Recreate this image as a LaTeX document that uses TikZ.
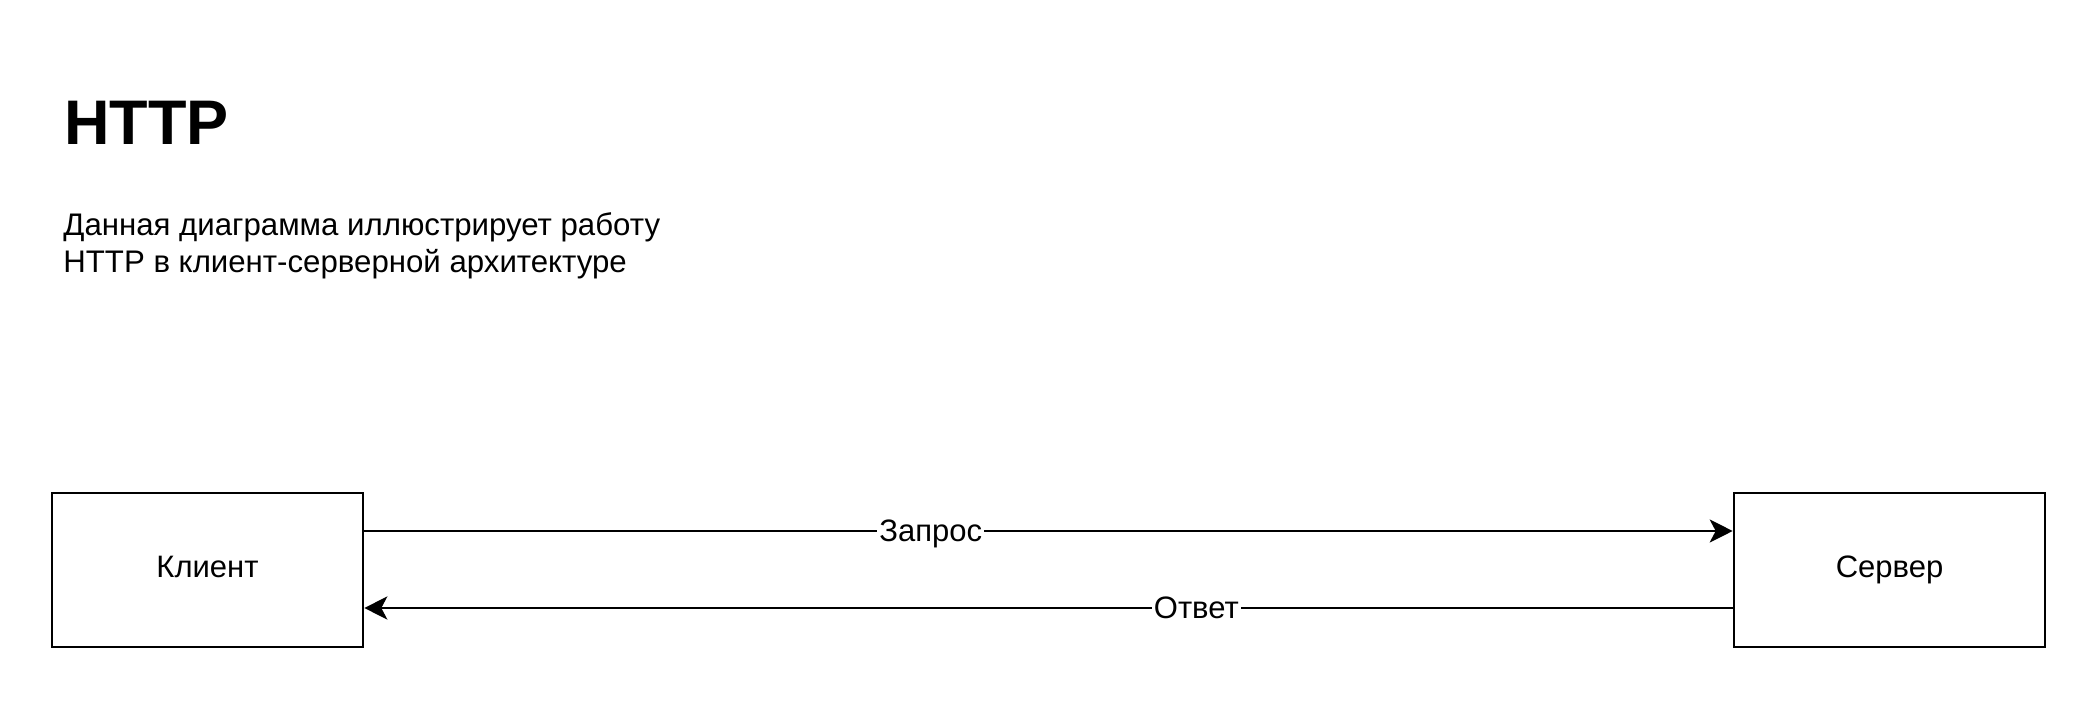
\documentclass[tikz,border=0pt]{standalone}
\usepackage{fontspec}
\setmainfont{Liberation Sans}
\usetikzlibrary{arrows.meta,positioning}

\begin{document}
\begin{tikzpicture}[
    x=0.5pt, y=-0.5pt,
    box/.style={
        rectangle,
        draw=black,
        line width=1.3pt,
        minimum width=155.5pt,
        minimum height=77pt,
        text height=11.2pt,
        text depth=4.2pt,
        font=\fontsize{15.5}{18}\selectfont
    },
    arrow/.style={-{Stealth[length=11.5pt, width=11.5pt, inset=3pt]}, line width=1.3pt},
    msglabel/.style={fill=white, inner sep=1pt, text height=11.2pt, text depth=1.2pt,
        font=\fontsize{15.5}{18}\selectfont}
]
\useasboundingbox (0,0) rectangle (2098,701);

% Title
\node[anchor=base west, inner sep=0pt, font=\fontsize{31.5}{36}\bfseries] (title) at (64,144) {HTTP};

% Description
\node[anchor=base west, inner sep=0pt, align=left, font=\fontsize{15.6}{18.5}\selectfont] (desc) at (63,272)
    {Данная диаграмма иллюстрирует работу\\HTTP в клиент-серверной архитектуре};

% Client and server
\node[box] (client) at (207.5,570) {Клиент};
\node[box] (server) at (1889.5,570) {Сервер};

% Messages
\draw[arrow] ([yshift=19.5pt]client.east) -- node[msglabel, pos=0.414] (req) {Запрос} ([yshift=19.5pt]server.west);
\draw[arrow] ([yshift=-19pt]server.west) -- node[msglabel, pos=0.392] (resp) {Ответ} ([yshift=-19pt]client.east);

\end{tikzpicture}
\end{document}
